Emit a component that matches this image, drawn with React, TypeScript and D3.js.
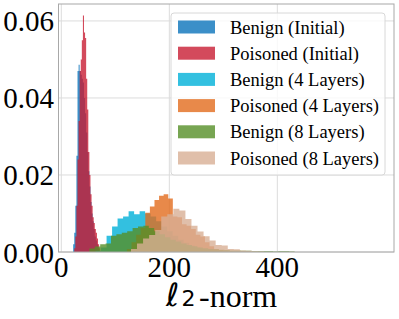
import React from 'react'
import * as d3 from 'd3'

// histogram densities (bin start, bin width, heights)
const benignInitialStart = 22
const benignInitialWidth = 2
const benignInitial = [0.002, 0.005, 0.012, 0.025, 0.047, 0.0486, 0.047, 0.046, 0.045, 0.044, 0.040, 0.036, 0.031, 0.026, 0.021, 0.017, 0.013, 0.010, 0.008, 0.006, 0.004, 0.003, 0.002, 0.001]

const poisonedInitialStart = 24
const poisonedInitialWidth = 2
const poisonedInitial = [0.001, 0.004, 0.012, 0.024, 0.034, 0.047, 0.050, 0.055, 0.0614, 0.057, 0.0556, 0.045, 0.037, 0.026, 0.020, 0.015, 0.012, 0.009, 0.0075, 0.006, 0.005, 0.0035, 0.002, 0.001]

const benign4Start = 63.4
const benign4Width = 10.2
const benign4 = [0.0003, 0.0012, 0.0042, 0.0066, 0.0087, 0.0092, 0.0106, 0.0098, 0.0106, 0.0100, 0.0092, 0.0080, 0.0066, 0.0054, 0.0042, 0.0032, 0.0024, 0.0017, 0.0012, 0.0008, 0.0005, 0.0003, 0.0002]

const poisoned4Start = 121.5
const poisoned4Width = 8.5
const poisoned4 = [0.0008, 0.0025, 0.0045, 0.0062, 0.0102, 0.0118, 0.0135, 0.0146, 0.0150, 0.0139, 0.0092, 0.0090, 0.0072, 0.0068, 0.0060, 0.0045, 0.0040, 0.0025, 0.0015, 0.0008, 0.0005, 0.0003, 0.0002]

const benign8Start = 52
const benign8Width = 10
const benign8 = [0.0009, 0.0014, 0.0020, 0.0022, 0.0042, 0.0046, 0.0050, 0.0054, 0.0062, 0.0066, 0.0068, 0.0062, 0.0054, 0.0046, 0.0038, 0.0032, 0.0027, 0.0022, 0.0018, 0.0015, 0.0012, 0.0010, 0.0008, 0.0007, 0.0006, 0.0005, 0.0004, 0.0004, 0.0003, 0.0003, 0.0002, 0.0002, 0.0002, 0.0002, 0.0001, 0.0002, 0.0002, 0.0001]

const poisoned8Start = 129
const poisoned8Width = 11.2
const poisoned8 = [0.0008, 0.0022, 0.0035, 0.0044, 0.0057, 0.0092, 0.0098, 0.0112, 0.0108, 0.0086, 0.0068, 0.0053, 0.0041, 0.0030, 0.0018, 0.0017, 0.0008, 0.0007, 0.0004, 0.0003, 0.0002, 0.0001]

const seriesNames = ['Benign (Initial)', 'Poisoned (Initial)', 'Benign (4 Layers)', 'Poisoned (4 Layers)', 'Benign (8 Layers)', 'Poisoned (8 Layers)']
const seriesColors = ['#0a73ba', '#c81d33', '#00b0d8', '#e26c1d', '#558e27', '#d8af95']

const xTicks = [0, 200, 400]
const yTicks = [0, 0.02, 0.04, 0.06]

const W = 399
const H = 319
const left = 58.5, right = 394, top = 4, bottom = 252

const serif = { fontFamily: '"Liberation Serif"' }
const sans = { fontFamily: '"DejaVu Sans"' }

export default function App() {
    const x = d3.scaleLinear().domain([-5.2, 616]).range([left, right])
    const y = d3.scaleLinear().domain([0, 0.0644]).range([bottom, top])

    const hists = [
        { start: benignInitialStart, w: benignInitialWidth, vals: benignInitial },
        { start: poisonedInitialStart, w: poisonedInitialWidth, vals: poisonedInitial },
        { start: benign4Start, w: benign4Width, vals: benign4 },
        { start: poisoned4Start, w: poisoned4Width, vals: poisoned4 },
        { start: benign8Start, w: benign8Width, vals: benign8 },
        { start: poisoned8Start, w: poisoned8Width, vals: poisoned8 },
    ]

    const area = d3.area<[number, number]>()
        .x(d => x(d[0]))
        .y0(y(0))
        .y1(d => y(d[1]))
        .curve(d3.curveStepAfter)

    // one closed step outline per histogram so overlapping alpha has no seams
    const paths = hists.map(h => {
        const pts: [number, number][] = h.vals.map((v, j) => [h.start + j * h.w, v])
        pts.unshift([h.start, 0])
        pts.push([h.start + h.vals.length * h.w, 0])
        return area(pts) || ''
    })

    return (
        <svg width={W} height={H} style={{ position: 'absolute', left: 0, top: 0 }}>
            <defs>
                <clipPath id="plotclip">
                    <rect x={left} y={top} width={right - left} height={bottom - top} />
                </clipPath>
            </defs>
            <rect x={left} y={top} width={right - left} height={bottom - top} fill="#fff" />

            {xTicks.map(t => (
                <line key={'gx' + t} x1={x(t)} x2={x(t)} y1={top} y2={bottom} stroke="#dcdcdc" strokeWidth={1} />
            ))}
            {yTicks.map(t => (
                <line key={'gy' + t} x1={left} x2={right} y1={y(t)} y2={y(t)} stroke="#dcdcdc" strokeWidth={1} />
            ))}

            <g clipPath="url(#plotclip)">
                {paths.map((d, i) => (
                    <path key={i} d={d} fill={seriesColors[i]} fillOpacity={0.8} />
                ))}
            </g>

            <rect x={left} y={top} width={right - left} height={bottom - top} fill="none" stroke="#a8a8a8" strokeWidth={1} />

            {yTicks.map(t => (
                <text key={'ty' + t} x={54} y={y(t) + 10.5} textAnchor="end" fontSize={29} style={serif}>
                    {d3.format('.2f')(t)}
                </text>
            ))}
            {xTicks.map(t => (
                <text key={'tx' + t} x={x(t)} y={277} textAnchor="middle" fontSize={29} style={serif}>
                    {t}
                </text>
            ))}

            {/* x label: l_2-norm */}
            <text x={166} y={306} fontSize={32} fontStyle="oblique" style={sans}>{'\u2113'}</text>
            <text x={181.5} y={306} fontSize={22} style={sans}>2</text>
            <text x={199} y={307} fontSize={32} style={serif}>-norm</text>

            {/* legend */}
            <rect x={171} y={13} width={214} height={162} rx={3} fill="#fff" fillOpacity={0.8} stroke="#d8d8d8" strokeWidth={1} />
            {seriesNames.map((name, i) => {
                const cy = 27 + i * 26.2
                return (
                    <g key={name}>
                        <rect x={178} y={cy - 6.5} width={37} height={13} fill={seriesColors[i]} fillOpacity={0.8} />
                        <text x={230} y={cy + 6.5} fontSize={18.5} style={serif}>{name}</text>
                    </g>
                )
            })}
        </svg>
    )
}
